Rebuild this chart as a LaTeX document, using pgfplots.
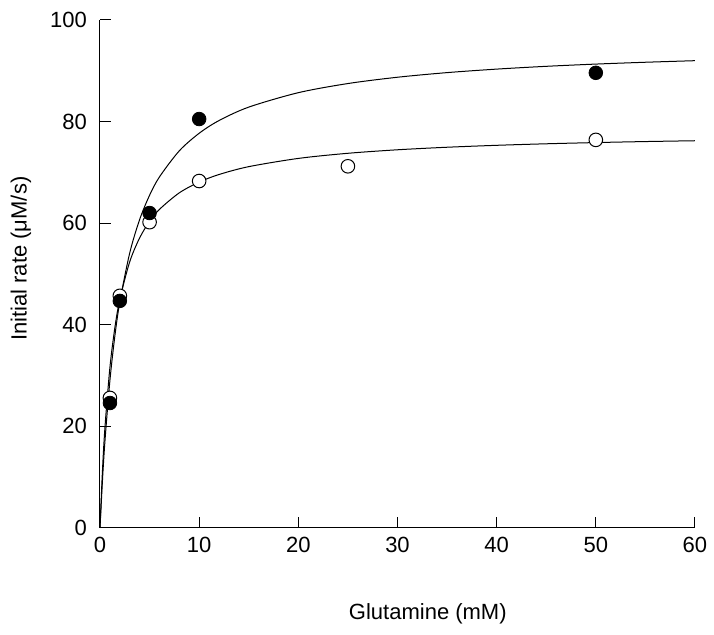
\documentclass[border=0pt]{standalone}
\usepackage{fontspec}
\setmainfont{Liberation Sans}
\usepackage{pgfplots}
\pgfplotsset{compat=1.18}

\begin{document}
\begin{tikzpicture}
\begin{axis}[
  scale only axis,
  width=297.5pt, height=254pt,
  xmin=0, xmax=60, ymin=0, ymax=100,
  xtick={0,10,...,60}, ytick={0,20,...,100},
  axis lines=left,
  axis line style={-, line width=0.5pt},
  tick align=inside,
  major tick length=5.5pt,
  tick style={line width=0.5pt, black},
  font=\fontsize{11}{13}\selectfont,
  /pgf/number format/assume math mode=true,
  ticklabel style={font=\fontsize{11}{13}\selectfont},
  xticklabel style={yshift=-1pt},
  yticklabel style={xshift=-3pt},
  every axis x label/.style={at={(axis description cs:0.551,0)}, yshift=-43pt, anchor=center},
  every axis y label/.style={at={(axis description cs:0,0.53)}, xshift=-39.5pt, rotate=90, anchor=center},
  xlabel={Glutamine (mM)},
  ylabel={Initial rate (μM/s)},
  clip=false,
]
% fitted curves
\addplot[black, line width=0.5pt, smooth, mark=none] coordinates {
(0,0) (0.25,9.40) (0.5,17.11) (1,29.03) (1.5,37.80) (2,44.52) (3,54.16) (4,60.73)
(5,65.50) (6,69.12) (8,74.25) (10,77.70) (12,80.20) (15,82.85) (20,85.69)
(25,87.49) (30,88.73) (35,89.64) (40,90.33) (45,90.88) (50,91.32) (55,91.68) (60,91.99)};
\addplot[black, line width=0.5pt, smooth, mark=none] coordinates {
(0,0) (0.25,11.35) (0.5,19.82) (1,31.62) (1.5,39.44) (2,45.01) (3,52.42) (4,57.11)
(5,60.36) (6,62.73) (8,65.98) (10,68.09) (12,69.58) (15,71.13) (20,72.75)
(25,73.76) (30,74.45) (35,74.95) (40,75.33) (45,75.63) (50,75.87) (55,76.07) (60,76.23)};
% open circles
\addplot[only marks, mark=*, mark size=3.4pt, mark options={fill=white, draw=black, line width=0.5pt}] coordinates {
(1,25.6) (2,45.7) (5,60.2) (10,68.3) (25,71.2) (50,76.4)};
% filled circles
\addplot[only marks, mark=*, mark size=3.4pt, mark options={fill=black, draw=black}] coordinates {
(1,24.6) (2,44.7) (5,62.0) (10,80.5) (50,89.6)};
\end{axis}
\pgfresetboundingbox
\useasboundingbox (-50pt,-53.5pt) rectangle (307pt,264pt);
\end{tikzpicture}
\end{document}
